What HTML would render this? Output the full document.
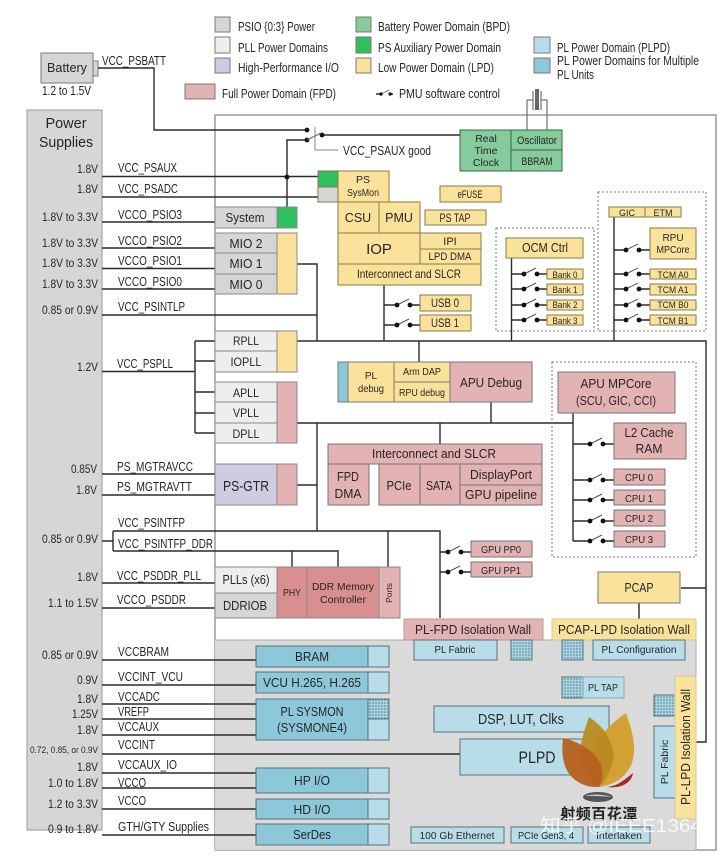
<!DOCTYPE html>
<html><head><meta charset="utf-8">
<style>
html,body{margin:0;padding:0;background:#fff;width:720px;height:855px;overflow:hidden}
svg{display:block}
text{font-family:"Liberation Sans","Noto Sans CJK SC",sans-serif;fill:#262626;font-size:12.5px}
.w{fill:none;stroke:#2b2b2b;stroke-width:1.4}
.b{stroke:#7a7a7a;stroke-width:1}
.c{text-anchor:middle}
.e{text-anchor:end;font-size:11.5px}
.y{fill:#fbe29a}.p{fill:#e3b2b2}.g{fill:#d6d6d6}.l{fill:#eeeeee}.gn{fill:#85cb9b}.ag{fill:#2fbf5e}
.m{fill:#8cc7da}.s{fill:#b8dde9}.dk{fill:#d98f8f}
</style></head><body>
<svg width="720" height="855" viewBox="0 0 720 855" xmlns="http://www.w3.org/2000/svg">
<defs>
<pattern id="h" width="3" height="3" patternUnits="userSpaceOnUse"><rect width="3" height="3" fill="#a9d3e0"/><circle cx="1" cy="1" r="0.8" fill="#4f7f92"/></pattern>
<g id="sw"><line x1="0" y1="0" x2="12" y2="-6" stroke="#555" stroke-width="1"/><circle cx="0" cy="0" r="2.4" fill="#111"/><circle cx="13" cy="0" r="2.4" fill="#111"/></g>
</defs>
<rect width="720" height="855" fill="#fff"/>

<!-- legend -->
<g class="b">
<rect class="g" x="215" y="17" width="15" height="15"/>
<rect class="l" x="215" y="37" width="15" height="16"/>
<rect x="215" y="58" width="15" height="15" fill="#cfcbe0"/>
<rect class="p" x="185" y="84" width="30" height="15"/>
<rect class="gn" x="356" y="17" width="15" height="15"/>
<rect class="ag" x="356" y="37" width="15" height="16"/>
<rect class="y" x="356" y="58" width="15" height="15"/>
<rect class="s" x="534" y="37" width="16" height="16"/>
<rect class="m" x="534" y="58" width="16" height="15"/>
</g>
<text x="238" y="31" textLength="77" lengthAdjust="spacingAndGlyphs">PSIO {0:3} Power</text>
<text x="238" y="52" textLength="90" lengthAdjust="spacingAndGlyphs">PLL Power Domains</text>
<text x="238" y="72" textLength="101" lengthAdjust="spacingAndGlyphs">High-Performance I/O</text>
<text x="222" y="98" textLength="114" lengthAdjust="spacingAndGlyphs">Full Power Domain (FPD)</text>
<text x="378" y="31" textLength="132" lengthAdjust="spacingAndGlyphs">Battery Power Domain (BPD)</text>
<text x="378" y="52" textLength="123" lengthAdjust="spacingAndGlyphs">PS Auxiliary Power Domain</text>
<text x="378" y="72" textLength="116" lengthAdjust="spacingAndGlyphs">Low Power Domain (LPD)</text>
<text x="399" y="98" textLength="101" lengthAdjust="spacingAndGlyphs">PMU software control</text>
<text x="557" y="52" textLength="113" lengthAdjust="spacingAndGlyphs">PL Power Domain (PLPD)</text>
<text x="557" y="65" textLength="142" lengthAdjust="spacingAndGlyphs">PL Power Domains for Multiple</text>
<text x="557" y="79" textLength="37" lengthAdjust="spacingAndGlyphs">PL Units</text>
<path class="w" d="M376 94H381M390 94H393"/>
<g transform="translate(381,94) scale(0.7)"><use href="#sw"/></g>

<!-- main box -->
<rect x="215" y="115" width="501" height="735" fill="#fff" stroke="#808080" stroke-width="1.2"/>
<rect x="215" y="640" width="481" height="210" fill="#dadada"/>
<path d="M215 640H696V850" fill="none" stroke="#aaa" stroke-width="1"/>

<!-- battery -->
<rect class="g b" x="41" y="53" width="52" height="30"/>
<rect class="g b" x="93" y="61" width="5" height="15"/>
<text class="c" x="67" y="72" style="font-size:12.5px" textLength="40" lengthAdjust="spacingAndGlyphs">Battery</text>
<text x="42" y="95" textLength="49" lengthAdjust="spacingAndGlyphs">1.2 to 1.5V</text>
<text x="102" y="65" textLength="64" lengthAdjust="spacingAndGlyphs">VCC_PSBATT</text>

<!-- power supplies -->
<rect class="g" x="27" y="110" width="75" height="720" stroke="#999"/>
<text class="c" x="66" y="128" style="font-size:14.5px">Power</text>
<text class="c" x="66" y="147" style="font-size:14.5px" textLength="54" lengthAdjust="spacingAndGlyphs">Supplies</text>

<!-- wires -->
<path class="w" d="M98 68H154V130H307"/>
<path class="w" d="M307 140H287V207"/>
<path class="w" d="M322 135H460"/>
<path d="M315 127V150H338" fill="none" stroke="#888" stroke-width="1"/>
<path class="w" d="M102 176.500H318M102 197H318M102 222H215M102 248H215M102 268.500H215M102 289H215M102 315H317"/>
<path class="w" d="M102 371.500H195M195 341V433M195 341H215M195 361H215M195 392H215M195 413H215M195 433H215"/>
<path class="w" d="M102 474H215M102 495H215"/>
<path class="w" d="M102 541H113M113 531V551M113 531H440V618M113 551H338V567M292 551V567M388 531V567"/>
<path class="w" d="M102 583H215M102 608H215"/>
<path class="w" d="M102 660H256M102 685H256M102 704H256M102 719H256M102 735H256M102 754H460M102 773H256M102 788H256M102 809H256M102 835H256"/>
<path class="w" d="M297 264H317V341M297 341H706V588M681 588H706M706 588V742H696"/>
<path class="w" d="M297 423H573M317 423V531M297 485H317M440 423V444M491 402V423M419 341V362"/>
<path class="w" d="M384 285V341M511.500 258V341M614 217V341"/>
<path class="w" d="M573 413V541"/>
<path class="w" d="M639 603V619"/>
<path class="w" d="M384 305H397M409 305H420M384 325H397M409 325H420"/>
<path class="w" d="M511.500 274H524M537 274H547M511.500 289H524M537 289H547M511.500 305H524M537 305H547M511.500 320H524M537 320H547"/>
<path class="w" d="M614 250H626M639 250H650M614 274H626M639 274H650M614 289H626M639 289H650M614 305H626M639 305H650M614 320H626M639 320H650"/>
<path class="w" d="M573 444H590M604 444H614M573 480H590M604 480H614M573 500H590M604 500H614M573 521H590M604 521H614M573 541H590M604 541H614"/>
<path class="w" d="M440 552H448M461 552H471M440 572H448M461 572H471"/>
<circle cx="287" cy="177" r="2.400" fill="#111"/>
<circle cx="307" cy="130" r="2.400" fill="#111"/>
<circle cx="307" cy="140" r="2.400" fill="#111"/>
<circle cx="322" cy="135" r="2.400" fill="#111"/>
<path d="M307 140L321 133" stroke="#666" stroke-width="1"/>
<use href="#sw" x="397" y="305"/><use href="#sw" x="397" y="325"/>
<use href="#sw" x="524" y="274"/><use href="#sw" x="524" y="289"/><use href="#sw" x="524" y="305"/><use href="#sw" x="524" y="320"/>
<use href="#sw" x="626" y="250"/><use href="#sw" x="626" y="274"/><use href="#sw" x="626" y="289"/><use href="#sw" x="626" y="305"/><use href="#sw" x="626" y="320"/>
<use href="#sw" x="590" y="444"/><use href="#sw" x="590" y="480"/><use href="#sw" x="590" y="500"/><use href="#sw" x="590" y="521"/><use href="#sw" x="590" y="541"/>
<use href="#sw" x="448" y="552"/><use href="#sw" x="448" y="572"/>

<!-- left labels -->
<g>
<text x="118" y="172" textLength="59" lengthAdjust="spacingAndGlyphs">VCC_PSAUX</text>
<text x="118" y="193" textLength="60" lengthAdjust="spacingAndGlyphs">VCC_PSADC</text>
<text x="118" y="219" textLength="64" lengthAdjust="spacingAndGlyphs">VCCO_PSIO3</text>
<text x="118" y="245" textLength="64" lengthAdjust="spacingAndGlyphs">VCCO_PSIO2</text>
<text x="118" y="265" textLength="64" lengthAdjust="spacingAndGlyphs">VCCO_PSIO1</text>
<text x="118" y="286" textLength="64" lengthAdjust="spacingAndGlyphs">VCCO_PSIO0</text>
<text x="118" y="311" textLength="67" lengthAdjust="spacingAndGlyphs">VCC_PSINTLP</text>
<text x="117" y="368" textLength="56" lengthAdjust="spacingAndGlyphs">VCC_PSPLL</text>
<text x="117" y="471" textLength="76" lengthAdjust="spacingAndGlyphs">PS_MGTRAVCC</text>
<text x="117" y="491" textLength="75" lengthAdjust="spacingAndGlyphs">PS_MGTRAVTT</text>
<text x="118" y="527" textLength="67" lengthAdjust="spacingAndGlyphs">VCC_PSINTFP</text>
<text x="118" y="548" textLength="95" lengthAdjust="spacingAndGlyphs">VCC_PSINTFP_DDR</text>
<text x="117" y="580" textLength="84" lengthAdjust="spacingAndGlyphs">VCC_PSDDR_PLL</text>
<text x="117" y="604" textLength="69" lengthAdjust="spacingAndGlyphs">VCCO_PSDDR</text>
<text x="118" y="656" textLength="51" lengthAdjust="spacingAndGlyphs">VCCBRAM</text>
<text x="118" y="681" textLength="65" lengthAdjust="spacingAndGlyphs">VCCINT_VCU</text>
<text x="118" y="701" textLength="42" lengthAdjust="spacingAndGlyphs">VCCADC</text>
<text x="118" y="716" textLength="31" lengthAdjust="spacingAndGlyphs">VREFP</text>
<text x="118" y="731" textLength="41" lengthAdjust="spacingAndGlyphs">VCCAUX</text>
<text x="118" y="749" textLength="37" lengthAdjust="spacingAndGlyphs">VCCINT</text>
<text x="118" y="769" textLength="59" lengthAdjust="spacingAndGlyphs">VCCAUX_IO</text>
<text x="118" y="787" textLength="28" lengthAdjust="spacingAndGlyphs">VCCO</text>
<text x="118" y="805" textLength="28" lengthAdjust="spacingAndGlyphs">VCCO</text>
<text x="118" y="831" textLength="91" lengthAdjust="spacingAndGlyphs">GTH/GTY Supplies</text>
</g>
<!-- voltages -->
<g>
<text class="e" x="98" y="173" textLength="21" lengthAdjust="spacingAndGlyphs">1.8V</text>
<text class="e" x="98" y="193" textLength="21" lengthAdjust="spacingAndGlyphs">1.8V</text>
<text class="e" x="98" y="221" textLength="56" lengthAdjust="spacingAndGlyphs">1.8V to 3.3V</text>
<text class="e" x="98" y="247" textLength="56" lengthAdjust="spacingAndGlyphs">1.8V to 3.3V</text>
<text class="e" x="98" y="267" textLength="56" lengthAdjust="spacingAndGlyphs">1.8V to 3.3V</text>
<text class="e" x="98" y="288" textLength="56" lengthAdjust="spacingAndGlyphs">1.8V to 3.3V</text>
<text class="e" x="98" y="314" textLength="56" lengthAdjust="spacingAndGlyphs">0.85 or 0.9V</text>
<text class="e" x="98" y="371" textLength="21" lengthAdjust="spacingAndGlyphs">1.2V</text>
<text class="e" x="97" y="473" textLength="26" lengthAdjust="spacingAndGlyphs">0.85V</text>
<text class="e" x="97" y="494" textLength="21" lengthAdjust="spacingAndGlyphs">1.8V</text>
<text class="e" x="98" y="543" textLength="56" lengthAdjust="spacingAndGlyphs">0.85 or 0.9V</text>
<text class="e" x="98" y="581" textLength="21" lengthAdjust="spacingAndGlyphs">1.8V</text>
<text class="e" x="98" y="607" textLength="50" lengthAdjust="spacingAndGlyphs">1.1 to 1.5V</text>
<text class="e" x="98" y="659" textLength="56" lengthAdjust="spacingAndGlyphs">0.85 or 0.9V</text>
<text class="e" x="98" y="684" textLength="21" lengthAdjust="spacingAndGlyphs">0.9V</text>
<text class="e" x="98" y="703" textLength="21" lengthAdjust="spacingAndGlyphs">1.8V</text>
<text class="e" x="98" y="718" textLength="26" lengthAdjust="spacingAndGlyphs">1.25V</text>
<text class="e" x="98" y="734" textLength="21" lengthAdjust="spacingAndGlyphs">1.8V</text>
<text class="e" x="98" y="753" style="font-size:9.500px" textLength="68" lengthAdjust="spacingAndGlyphs">0.72, 0.85, or 0.9V</text>
<text class="e" x="98" y="771" textLength="21" lengthAdjust="spacingAndGlyphs">1.8V</text>
<text class="e" x="98" y="787" textLength="50" lengthAdjust="spacingAndGlyphs">1.0 to 1.8V</text>
<text class="e" x="98" y="808" textLength="50" lengthAdjust="spacingAndGlyphs">1.2 to 3.3V</text>
<text class="e" x="98" y="833" textLength="50" lengthAdjust="spacingAndGlyphs">0.9 to 1.8V</text>
</g>

<text x="343" y="155" style="font-size:13px" textLength="88" lengthAdjust="spacingAndGlyphs">VCC_PSAUX good</text>

<!-- crystal -->
<path d="M527 130V100H533M547 130V100H541M533 91V110M541 91V110" fill="none" stroke="#555" stroke-width="1"/>
<rect x="535" y="89" width="4" height="21" fill="#666"/>

<!-- RTC -->
<g stroke="#2f6b45" stroke-width="1">
<rect class="gn" x="460" y="130" width="51" height="41"/>
<rect class="gn" x="511" y="130" width="51" height="20"/>
<rect class="gn" x="511" y="150" width="51" height="21"/>
</g>
<text class="c" x="486" y="142" style="font-size:10.500px">Real</text>
<text class="c" x="486" y="154" style="font-size:10.500px">Time</text>
<text class="c" x="486" y="166" style="font-size:10.500px">Clock</text>
<text class="c" x="537" y="144" style="font-size:11px" textLength="40" lengthAdjust="spacingAndGlyphs">Oscillator</text>
<text class="c" x="537" y="165" style="font-size:11px" textLength="31" lengthAdjust="spacingAndGlyphs">BBRAM</text>

<!-- LPD stack -->
<g stroke="#8a7a45" stroke-width="1">
<rect class="ag" x="318" y="171" width="20" height="16"/>
<rect class="g" x="318" y="187" width="20" height="15"/>
<rect class="y" x="338" y="171" width="51" height="31"/>
<rect class="y" x="338" y="202" width="41" height="31"/>
<rect class="y" x="379" y="202" width="41" height="31"/>
<rect class="y" x="338" y="233" width="82" height="31"/>
<rect class="y" x="420" y="233" width="61" height="16"/>
<rect class="y" x="420" y="249" width="61" height="15"/>
<rect class="y" x="338" y="264" width="143" height="21"/>
<rect class="y" x="440" y="186" width="61" height="16"/>
<rect class="y" x="425" y="210" width="61" height="15"/>
<rect class="y" x="420" y="295" width="51" height="16"/>
<rect class="y" x="420" y="315" width="51" height="16"/>
<!-- OCM -->
<rect class="y" x="506" y="238" width="77" height="20"/>
<rect class="y" x="547" y="269" width="36" height="10"/>
<rect class="y" x="547" y="284" width="36" height="11"/>
<rect class="y" x="547" y="300" width="36" height="10"/>
<rect class="y" x="547" y="315" width="36" height="10"/>
<!-- RPU -->
<rect class="y" x="609" y="207" width="36" height="10"/>
<rect class="y" x="645" y="207" width="36" height="10"/>
<rect class="y" x="650" y="228" width="46" height="31"/>
<rect class="y" x="650" y="269" width="46" height="10"/>
<rect class="y" x="650" y="284" width="46" height="11"/>
<rect class="y" x="650" y="300" width="46" height="10"/>
<rect class="y" x="650" y="315" width="46" height="10"/>
</g>
<text class="c" x="363" y="183" style="font-size:10.500px">PS</text>
<text class="c" x="363" y="196" style="font-size:10.500px" textLength="32" lengthAdjust="spacingAndGlyphs">SysMon</text>
<text class="c" x="358" y="222" style="font-size:12.500px">CSU</text>
<text class="c" x="399" y="222" style="font-size:12.500px">PMU</text>
<text class="c" x="379" y="254" style="font-size:15px">IOP</text>
<text class="c" x="450" y="245" style="font-size:11px">IPI</text>
<text class="c" x="450" y="260" style="font-size:11px" textLength="43" lengthAdjust="spacingAndGlyphs">LPD DMA</text>
<text class="c" x="409" y="278" style="font-size:12px" textLength="104" lengthAdjust="spacingAndGlyphs">Interconnect and SLCR</text>
<text class="c" x="470" y="198" style="font-size:11px" textLength="25" lengthAdjust="spacingAndGlyphs">eFUSE</text>
<text class="c" x="455" y="222" style="font-size:11.500px" textLength="31" lengthAdjust="spacingAndGlyphs">PS TAP</text>
<text class="c" x="445" y="307" style="font-size:11.500px" textLength="28" lengthAdjust="spacingAndGlyphs">USB 0</text>
<text class="c" x="445" y="327" style="font-size:11.500px" textLength="28" lengthAdjust="spacingAndGlyphs">USB 1</text>

<!-- OCM dotted -->
<rect x="496" y="228" width="98" height="103" fill="none" stroke="#777" stroke-width="1" stroke-dasharray="2 2"/>
<text class="c" x="545" y="252" style="font-size:12.500px" textLength="46" lengthAdjust="spacingAndGlyphs">OCM Ctrl</text>
<text class="c" x="565" y="278" style="font-size:9px" textLength="25" lengthAdjust="spacingAndGlyphs">Bank 0</text>
<text class="c" x="565" y="293" style="font-size:9px" textLength="25" lengthAdjust="spacingAndGlyphs">Bank 1</text>
<text class="c" x="565" y="308" style="font-size:9px" textLength="25" lengthAdjust="spacingAndGlyphs">Bank 2</text>
<text class="c" x="565" y="324" style="font-size:9px" textLength="25" lengthAdjust="spacingAndGlyphs">Bank 3</text>
<!-- RPU dotted -->
<rect x="598" y="192" width="108" height="139" fill="none" stroke="#777" stroke-width="1" stroke-dasharray="2 2"/>
<text class="c" x="627" y="216" style="font-size:9px">GIC</text>
<text class="c" x="663" y="216" style="font-size:9px">ETM</text>
<text class="c" x="673" y="241" style="font-size:10px">RPU</text>
<text class="c" x="673" y="253" style="font-size:10px" textLength="33" lengthAdjust="spacingAndGlyphs">MPCore</text>
<text class="c" x="673" y="278" style="font-size:9px" textLength="31" lengthAdjust="spacingAndGlyphs">TCM A0</text>
<text class="c" x="673" y="293" style="font-size:9px" textLength="31" lengthAdjust="spacingAndGlyphs">TCM A1</text>
<text class="c" x="673" y="308" style="font-size:9px" textLength="31" lengthAdjust="spacingAndGlyphs">TCM B0</text>
<text class="c" x="673" y="324" style="font-size:9px" textLength="31" lengthAdjust="spacingAndGlyphs">TCM B1</text>

<!-- PSIO blocks -->
<g stroke="#888" stroke-width="1">
<rect class="g" x="215" y="207" width="62" height="21"/>
<rect class="ag" x="277" y="207" width="20" height="21"/>
<rect class="g" x="215" y="233" width="62" height="20"/>
<rect class="g" x="215" y="253" width="62" height="21"/>
<rect class="g" x="215" y="274" width="62" height="20"/>
<rect class="y" x="277" y="233" width="20" height="61"/>
<rect class="l" x="215" y="331" width="62" height="20"/>
<rect class="l" x="215" y="351" width="62" height="21"/>
<rect class="y" x="277" y="331" width="20" height="41"/>
<rect class="l" x="215" y="382" width="62" height="20"/>
<rect class="l" x="215" y="402" width="62" height="21"/>
<rect class="l" x="215" y="423" width="62" height="20"/>
<rect class="p" x="277" y="382" width="20" height="61"/>
<rect x="215" y="464" width="62" height="41" fill="#cfcbe0"/>
<rect class="p" x="277" y="464" width="20" height="41"/>
<rect class="l" x="215" y="567" width="62" height="26"/>
<rect class="g" x="215" y="593" width="62" height="25"/>
<rect class="dk" x="277" y="567" width="30" height="51"/>
<rect class="dk" x="307" y="567" width="72" height="51"/>
<rect class="p" x="379" y="567" width="21" height="51"/>
</g>
<text class="c" x="245" y="222" style="font-size:12.500px" textLength="39" lengthAdjust="spacingAndGlyphs">System</text>
<text class="c" x="246" y="248" style="font-size:12.500px" textLength="33" lengthAdjust="spacingAndGlyphs">MIO 2</text>
<text class="c" x="246" y="268" style="font-size:12.500px" textLength="33" lengthAdjust="spacingAndGlyphs">MIO 1</text>
<text class="c" x="246" y="289" style="font-size:12.500px" textLength="33" lengthAdjust="spacingAndGlyphs">MIO 0</text>
<text class="c" x="246" y="345" style="font-size:12px" textLength="26" lengthAdjust="spacingAndGlyphs">RPLL</text>
<text class="c" x="246" y="366" style="font-size:12px" textLength="31" lengthAdjust="spacingAndGlyphs">IOPLL</text>
<text class="c" x="246" y="397" style="font-size:12px" textLength="26" lengthAdjust="spacingAndGlyphs">APLL</text>
<text class="c" x="246" y="417" style="font-size:12px" textLength="26" lengthAdjust="spacingAndGlyphs">VPLL</text>
<text class="c" x="246" y="438" style="font-size:12px" textLength="27" lengthAdjust="spacingAndGlyphs">DPLL</text>
<text class="c" x="246" y="491" style="font-size:15px" textLength="46" lengthAdjust="spacingAndGlyphs">PS-GTR</text>
<text class="c" x="246" y="584" style="font-size:12.500px" textLength="47" lengthAdjust="spacingAndGlyphs">PLLs (x6)</text>
<text class="c" x="245" y="610" style="font-size:12.500px" textLength="44" lengthAdjust="spacingAndGlyphs">DDRIOB</text>
<text class="c" x="292" y="596" style="font-size:10.500px" textLength="18" lengthAdjust="spacingAndGlyphs">PHY</text>
<text class="c" x="343" y="590" style="font-size:10.500px" textLength="62" lengthAdjust="spacingAndGlyphs">DDR Memory</text>
<text class="c" x="343" y="603" style="font-size:10.500px" textLength="46" lengthAdjust="spacingAndGlyphs">Controller</text>
<text class="c" transform="translate(392,593) rotate(-90)" x="0" y="0" style="font-size:8.500px">Ports</text>

<!-- debug -->
<g stroke="#777" stroke-width="1">
<rect class="m" x="338" y="362" width="10" height="40"/>
<rect class="y" x="348" y="362" width="46" height="40"/>
<rect class="y" x="394" y="362" width="56" height="20"/>
<rect class="y" x="394" y="382" width="56" height="20"/>
<rect class="p" x="450" y="362" width="82" height="40"/>
<!-- FPD -->
<rect class="p" x="328" y="444" width="214" height="20"/>
<rect class="p" x="328" y="464" width="41" height="41"/>
<rect class="p" x="379" y="464" width="41" height="41"/>
<rect class="p" x="420" y="464" width="40" height="41"/>
<rect class="p" x="460" y="464" width="82" height="21"/>
<rect class="p" x="460" y="485" width="82" height="20"/>
<!-- APU -->
<rect class="p" x="558" y="372" width="117" height="41"/>
<rect class="p" x="614" y="423" width="72" height="36"/>
<rect class="p" x="614" y="469" width="51" height="16"/>
<rect class="p" x="614" y="490" width="51" height="15"/>
<rect class="p" x="614" y="510" width="51" height="16"/>
<rect class="p" x="614" y="531" width="51" height="16"/>
<rect class="p" x="471" y="541" width="61" height="16"/>
<rect class="p" x="471" y="562" width="61" height="15"/>
</g>
<rect x="552" y="362" width="144" height="195" fill="none" stroke="#777" stroke-width="1" stroke-dasharray="2 2"/>
<rect class="y" x="598" y="572" width="82" height="31" stroke="#777"/>
<text class="c" x="371" y="379" style="font-size:10px">PL</text>
<text class="c" x="371" y="392" style="font-size:10px" textLength="26" lengthAdjust="spacingAndGlyphs">debug</text>
<text class="c" x="422" y="375" style="font-size:10px" textLength="38" lengthAdjust="spacingAndGlyphs">Arm DAP</text>
<text class="c" x="422" y="396" style="font-size:10px" textLength="46" lengthAdjust="spacingAndGlyphs">RPU debug</text>
<text class="c" x="491" y="387" style="font-size:13px" textLength="62" lengthAdjust="spacingAndGlyphs">APU Debug</text>
<text class="c" x="434" y="458" style="font-size:13px" textLength="124" lengthAdjust="spacingAndGlyphs">Interconnect and SLCR</text>
<text class="c" x="348" y="481" style="font-size:12.500px" textLength="22" lengthAdjust="spacingAndGlyphs">FPD</text>
<text class="c" x="348" y="498" style="font-size:12.500px" textLength="27" lengthAdjust="spacingAndGlyphs">DMA</text>
<text class="c" x="399" y="490" style="font-size:12.500px" textLength="25" lengthAdjust="spacingAndGlyphs">PCIe</text>
<text class="c" x="439" y="490" style="font-size:12.500px" textLength="26" lengthAdjust="spacingAndGlyphs">SATA</text>
<text class="c" x="501" y="479" style="font-size:13px" textLength="62" lengthAdjust="spacingAndGlyphs">DisplayPort</text>
<text class="c" x="501" y="499" style="font-size:13px" textLength="72" lengthAdjust="spacingAndGlyphs">GPU pipeline</text>
<text class="c" x="616" y="388" style="font-size:12.500px" textLength="71" lengthAdjust="spacingAndGlyphs">APU MPCore</text>
<text class="c" x="616" y="405" style="font-size:12.500px" textLength="80" lengthAdjust="spacingAndGlyphs">(SCU, GIC, CCI)</text>
<text class="c" x="649" y="437" style="font-size:12.500px" textLength="49" lengthAdjust="spacingAndGlyphs">L2 Cache</text>
<text class="c" x="649" y="453" style="font-size:12.500px" textLength="27" lengthAdjust="spacingAndGlyphs">RAM</text>
<text class="c" x="639" y="481" style="font-size:10.500px" textLength="28" lengthAdjust="spacingAndGlyphs">CPU 0</text>
<text class="c" x="639" y="502" style="font-size:10.500px" textLength="28" lengthAdjust="spacingAndGlyphs">CPU 1</text>
<text class="c" x="639" y="522" style="font-size:10.500px" textLength="28" lengthAdjust="spacingAndGlyphs">CPU 2</text>
<text class="c" x="639" y="543" style="font-size:10.500px" textLength="28" lengthAdjust="spacingAndGlyphs">CPU 3</text>
<text class="c" x="501" y="553" style="font-size:10.500px" textLength="40" lengthAdjust="spacingAndGlyphs">GPU PP0</text>
<text class="c" x="501" y="574" style="font-size:10.500px" textLength="40" lengthAdjust="spacingAndGlyphs">GPU PP1</text>
<text class="c" x="639" y="592" style="font-size:12.500px" textLength="29" lengthAdjust="spacingAndGlyphs">PCAP</text>

<!-- isolation walls -->
<rect class="p" x="404" y="619" width="139" height="21" stroke="#b99"/>
<rect class="y" x="552" y="619" width="144" height="21" stroke="#cc9"/>
<text class="c" x="473" y="634" style="font-size:13px" textLength="116" lengthAdjust="spacingAndGlyphs">PL-FPD Isolation Wall</text>
<text class="c" x="624" y="634" style="font-size:13px" textLength="132" lengthAdjust="spacingAndGlyphs">PCAP-LPD Isolation Wall</text>

<!-- PL blocks -->
<g stroke="#55737f" stroke-width="1">
<rect class="m" x="256" y="646" width="112" height="21"/><rect class="s" x="368" y="646" width="21" height="21"/>
<rect class="m" x="256" y="672" width="112" height="21"/><rect class="s" x="368" y="672" width="21" height="21"/>
<rect class="m" x="256" y="699" width="112" height="41"/><rect fill="url(#h)" x="368" y="699" width="21" height="20"/><rect class="s" x="368" y="719" width="21" height="21"/>
<rect class="m" x="256" y="768" width="112" height="25"/><rect class="s" x="368" y="768" width="21" height="25"/>
<rect class="m" x="256" y="799" width="112" height="20"/><rect class="s" x="368" y="799" width="21" height="20"/>
<rect class="m" x="256" y="824" width="112" height="21"/><rect class="s" x="368" y="824" width="21" height="21"/>
<rect class="s" x="414" y="640" width="83" height="20"/>
<rect fill="url(#h)" x="511" y="640" width="21" height="20"/>
<rect fill="url(#h)" x="562" y="640" width="21" height="20"/>
<rect class="s" x="593" y="640" width="92" height="20"/>
<rect fill="url(#h)" x="562" y="677" width="21" height="21"/>
<rect class="s" x="583" y="677" width="41" height="21" stroke="#8aa"/>
<rect fill="url(#h)" x="654" y="695" width="21" height="21"/>
<rect class="s" x="654" y="726" width="21" height="72"/>
<rect class="y" x="675" y="676" width="21" height="143" stroke="#cc9"/>
<rect class="s" x="434" y="706" width="175" height="26"/>
<rect class="s" x="460" y="739" width="154" height="36"/>
<rect class="s" x="411" y="827" width="93" height="16"/>
<rect class="s" x="511" y="827" width="72" height="16"/>
<rect class="s" x="588" y="827" width="62" height="16"/>
</g>
<text class="c" x="312" y="661" style="font-size:12.500px" textLength="34" lengthAdjust="spacingAndGlyphs">BRAM</text>
<text class="c" x="312" y="687" style="font-size:12.500px" textLength="98" lengthAdjust="spacingAndGlyphs">VCU H.265, H.265</text>
<text class="c" x="312" y="716" style="font-size:12.500px" textLength="63" lengthAdjust="spacingAndGlyphs">PL SYSMON</text>
<text class="c" x="312" y="732" style="font-size:12.500px" textLength="70" lengthAdjust="spacingAndGlyphs">(SYSMONE4)</text>
<text class="c" x="312" y="785" style="font-size:12.500px" textLength="36" lengthAdjust="spacingAndGlyphs">HP I/O</text>
<text class="c" x="312" y="814" style="font-size:12.500px" textLength="37" lengthAdjust="spacingAndGlyphs">HD I/O</text>
<text class="c" x="312" y="839" style="font-size:12.500px" textLength="38" lengthAdjust="spacingAndGlyphs">SerDes</text>
<text class="c" x="455" y="653" style="font-size:10.500px" textLength="41" lengthAdjust="spacingAndGlyphs">PL Fabric</text>
<text class="c" x="639" y="653" style="font-size:10.500px" textLength="75" lengthAdjust="spacingAndGlyphs">PL Configuration</text>
<text class="c" x="603" y="691" style="font-size:10.500px" textLength="30" lengthAdjust="spacingAndGlyphs">PL TAP</text>
<text class="c" x="521" y="724" style="font-size:14.500px" textLength="86" lengthAdjust="spacingAndGlyphs">DSP, LUT, Clks</text>
<text class="c" x="537" y="763" style="font-size:17px" textLength="37" lengthAdjust="spacingAndGlyphs">PLPD</text>
<text class="c" transform="translate(668,762) rotate(-90)" x="0" y="0" style="font-size:10.500px">PL Fabric</text>
<text class="c" transform="translate(690,747) rotate(-90)" x="0" y="0" style="font-size:13px" textLength="116" lengthAdjust="spacingAndGlyphs">PL-LPD Isolation Wall</text>
<text class="c" x="457" y="839" style="font-size:10.500px" textLength="75" lengthAdjust="spacingAndGlyphs">100 Gb Ethernet</text>
<text class="c" x="546" y="839" style="font-size:10.500px" textLength="56" lengthAdjust="spacingAndGlyphs">PCIe Gen3, 4</text>
<text class="c" x="619" y="839" style="font-size:10.500px" textLength="46" lengthAdjust="spacingAndGlyphs">Interlaken</text>

<!-- logo -->
<path d="M626 713C604 728 586 750 590 770C592 780 597 785 599 787C620 784 636 770 634 745C633 733 629 722 626 713Z" fill="#d39f2a" fill-opacity=".95"/>
<path d="M589 717C600 724 610 735 613 750C615 765 606 780 599 787C587 778 578 762 581 745C583 733 587 723 589 717Z" fill="#b98a22" fill-opacity=".95"/>
<path d="M563 738C580 742 596 752 601 765C604 774 602 782 599 787C582 788 568 778 564 763C562 754 562 745 563 738Z" fill="#b5601e" fill-opacity=".95"/>
<path d="M607 787C618 786 624 780 633 773C632 782 622 789 607 787Z" fill="#a72a1f"/>
<ellipse cx="598" cy="797" rx="15" ry="5" fill="#55565a"/>
<path d="M585 796C595 793 605 795 612 797C600 796 592 796 585 796Z" fill="#c9c9c9"/>
<text class="c" x="599" y="819" style="font-size:15px;font-weight:bold;letter-spacing:0.500px;fill:#222;font-family:'Noto Sans CJK SC',sans-serif">射频百花潭</text>
<text x="540" y="832" style="font-size:18px;fill:#fff;fill-opacity:.8;font-family:'Liberation Sans','Noto Sans CJK SC',sans-serif" textLength="162" lengthAdjust="spacingAndGlyphs">知乎 @IEEE1364</text>
</svg>
</body></html>
